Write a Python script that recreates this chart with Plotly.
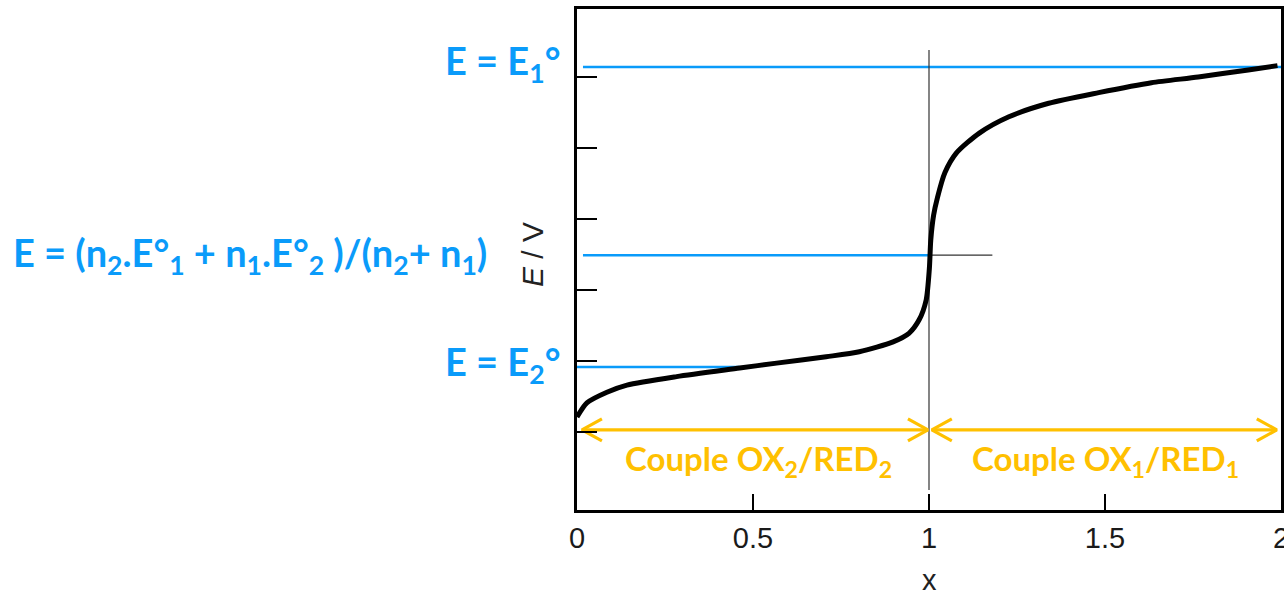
import plotly.graph_objects as go

# ---- data ----
x_curve = [0.0, 0.028, 0.085, 0.142, 0.283, 0.462, 0.567, 0.708, 0.802, 0.898,
           0.943, 0.972, 0.992, 1.001, 1.005, 1.013, 1.024, 1.045, 1.078, 1.143,
           1.227, 1.340, 1.482, 1.632, 1.765, 1.907, 1.99]
E_curve = [0.21, 0.41, 0.56, 0.66, 0.78, 0.90, 0.97, 1.06, 1.13, 1.27,
           1.39, 1.58, 1.86, 2.30, 2.70, 3.05, 3.30, 3.65, 3.93, 4.21,
           4.44, 4.63, 4.78, 4.92, 5.00, 5.10, 5.16]

E1 = 5.14          # E = E1°
E_eq = 2.49        # equivalence potential
E2 = 0.915         # E = E2°
x_eq = 1.0
E_arrow = 0.03

x_ticks = [0, 0.5, 1, 1.5, 2]
x_ticktext = ["0", "0.5", "1", "1.5", "2"]
y_ticks = [0, 1, 2, 3, 4, 5]

x_range = [0, 2]
y_range = [-1.099, 5.958]

BLUE = "#0A9BFA"
GOLD = "#FFC000"

# plot-area size in pixels (used to convert fixed pixel decorations)
W, H = 1284, 590
ML, MR, MT, MB = 577, 3, 9, 80
PW, PH = W - ML - MR, H - MT - MB
px_x = (x_range[1] - x_range[0]) / PW
px_y = (y_range[1] - y_range[0]) / PH

fig = go.Figure()

# blue reference levels
fig.add_trace(go.Scatter(x=[0.017, 2.0], y=[E1, E1], mode="lines",
                         line=dict(color=BLUE, width=2.6), hoverinfo="skip"))
fig.add_trace(go.Scatter(x=[0.017, x_eq], y=[E_eq, E_eq], mode="lines",
                         line=dict(color=BLUE, width=2.6), hoverinfo="skip"))
fig.add_trace(go.Scatter(x=[-0.003, 0.462], y=[E2, E2], mode="lines",
                         line=dict(color=BLUE, width=2.6), hoverinfo="skip"))

# thin black construction lines
fig.add_trace(go.Scatter(x=[x_eq, x_eq], y=[5.38, -0.817], mode="lines",
                         line=dict(color="#333333", width=1.2), hoverinfo="skip"))
fig.add_trace(go.Scatter(x=[x_eq, 1.18], y=[E_eq, E_eq], mode="lines",
                         line=dict(color="#333333", width=1.2), hoverinfo="skip"))

# titration curve
fig.add_trace(go.Scatter(x=x_curve, y=E_curve, mode="lines",
                         line=dict(color="black", width=5, shape="spline", smoothing=0.7),
                         hoverinfo="skip"))

# gold double arrows
def double_arrow(x0, x1, y):
    dx, dy = 20 * px_x, 11 * px_y
    xs = [x0, x1, None,
          x0 + dx, x0, x0 + dx, None,
          x1 - dx, x1, x1 - dx]
    ys = [y, y, None,
          y + dy, y, y - dy, None,
          y + dy, y, y - dy]
    fig.add_trace(go.Scatter(x=xs, y=ys, mode="lines",
                             line=dict(color=GOLD, width=3.2), hoverinfo="skip"))

double_arrow(0.014, 0.997, E_arrow)
double_arrow(1.008, 1.988, E_arrow)

def paper_x(px):
    return (px - ML) / PW

def paper_y(py):
    return (H - MB - py) / PH

ann = []
label_font = dict(family="Lato", size=38, color=BLUE)
ann.append(dict(x=paper_x(562), y=E1 + 0.06, xref="paper", yref="y", xanchor="right",
                yanchor="middle", text="<b>E = E<sub>1</sub>°</b>", showarrow=False,
                font=label_font))
ann.append(dict(x=paper_x(11), y=E_eq, xref="paper", yref="y", xanchor="left",
                yanchor="middle",
                text="<b>E = (n<sub>2</sub>.E°<sub>1</sub> + n<sub>1</sub>.E°<sub>2</sub> )/(n<sub>2</sub>+ n<sub>1</sub>)</b>",
                showarrow=False, font=label_font))
ann.append(dict(x=paper_x(562), y=E2 + 0.04, xref="paper", yref="y", xanchor="right",
                yanchor="middle", text="<b>E = E<sub>2</sub>°</b>", showarrow=False,
                font=label_font))

gold_font = dict(family="Lato", size=33, color=GOLD)
ann.append(dict(x=0.515, y=-0.40, xref="x", yref="y", xanchor="center", yanchor="middle",
                text="<b>Couple OX<sub>2</sub>/RED<sub>2</sub></b>", showarrow=False,
                font=gold_font))
ann.append(dict(x=1.5, y=-0.40, xref="x", yref="y", xanchor="center", yanchor="middle",
                text="<b>Couple OX<sub>1</sub>/RED<sub>1</sub></b>", showarrow=False,
                font=gold_font))

# axis titles
ann.append(dict(x=paper_x(532), y=paper_y(255), xref="paper", yref="paper",
                xanchor="center", yanchor="middle", textangle=-90,
                text="<i>E</i> / V", showarrow=False,
                font=dict(family="Liberation Sans", size=30, color="#222222")))
ann.append(dict(x=x_eq, y=paper_y(580), xref="x", yref="paper",
                xanchor="center", yanchor="middle", text="x", showarrow=False,
                font=dict(family="Liberation Sans", size=29, color="#222222")))

fig.update_layout(
    width=W, height=H,
    margin=dict(l=ML, r=MR, t=MT, b=MB, autoexpand=False),
    paper_bgcolor="white", plot_bgcolor="white",
    showlegend=False,
    annotations=ann,
    xaxis=dict(range=x_range, tickvals=x_ticks, ticktext=x_ticktext,
               ticks="inside", ticklen=16, tickwidth=2, tickcolor="black",
               showline=True, linecolor="black", linewidth=3, mirror=True,
               showgrid=False, zeroline=False, ticklabeloverflow="allow",
               automargin=False,
               tickfont=dict(family="Liberation Sans", size=29, color="#1a1a1a")),
    yaxis=dict(range=y_range, tickvals=y_ticks, showticklabels=False,
               ticks="inside", ticklen=20, tickwidth=2, tickcolor="black",
               showline=True, linecolor="black", linewidth=3, mirror=True,
               showgrid=False, zeroline=False, automargin=False),
)

fig.write_html("out.html", config={"displayModeBar": False},
               post_script="document.body.style.margin='0';document.body.style.overflow='hidden';")
